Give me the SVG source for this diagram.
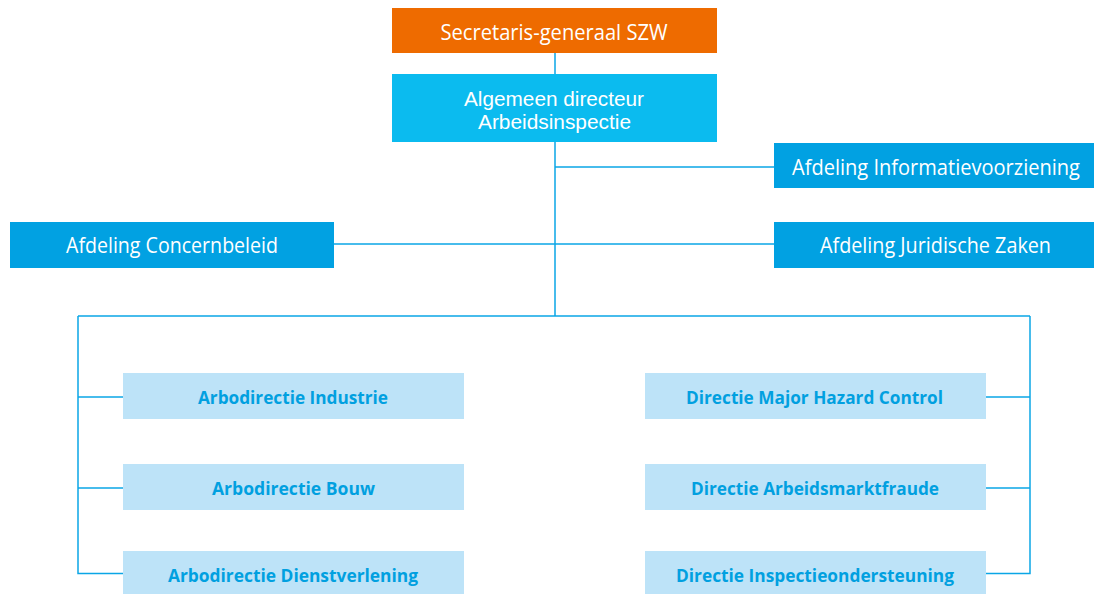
<svg xmlns="http://www.w3.org/2000/svg" width="1094" height="594" viewBox="0 0 1094 594">
<style>
.t{font-family:"Open Sans","Liberation Sans",sans-serif;font-size:21px;fill:#ffffff;text-anchor:middle}
.t2{font-family:"Liberation Sans",sans-serif;font-size:20px;fill:#ffffff;text-anchor:middle}
.b{font-family:"Open Sans","Liberation Sans",sans-serif;font-size:18px;font-weight:bold;fill:#01A0E0;text-anchor:middle}
.dark{fill:#01A1E2}
.light{fill:#BDE3F8}
.ln{stroke:#0BA6E6;stroke-width:1.5;fill:none}
</style>
<rect width="1094" height="594" fill="#ffffff"/>
<g id="connectors">
<path class="ln" d="M555,53 V74 M555,142 V316 M555,167 H774 M334,244 H774 M78,316 H1030 M78,316 V573.5 H123 M78,397 H123 M78,488 H123 M1030,316 V573.5 H986 M986,397 H1030 M986,488 H1030"/>
</g>
<g id="sg"><rect x="392" y="8" width="325" height="45" fill="#EE6B00"/><text class="t" x="554" y="40" textLength="227" lengthAdjust="spacingAndGlyphs">Secretaris-generaal SZW</text></g>
<g id="ad"><rect x="392" y="74" width="325" height="68" fill="#0BBBEF"/><text class="t2" x="554" y="106" textLength="180" lengthAdjust="spacingAndGlyphs">Algemeen directeur</text><text class="t2" x="554.5" y="129" textLength="153" lengthAdjust="spacingAndGlyphs">Arbeidsinspectie</text></g>
<g id="info"><rect class="dark" x="774" y="143" width="320" height="45"/><text class="t" x="936" y="175" textLength="288" lengthAdjust="spacingAndGlyphs">Afdeling Informatievoorziening</text></g>
<g id="concern"><rect class="dark" x="10" y="222" width="324" height="46"/><text class="t" x="172" y="253" textLength="212" lengthAdjust="spacingAndGlyphs">Afdeling Concernbeleid</text></g>
<g id="jur"><rect class="dark" x="774" y="222" width="320" height="46"/><text class="t" x="935.5" y="253" textLength="231" lengthAdjust="spacingAndGlyphs">Afdeling Juridische Zaken</text></g>
<g id="ind"><rect class="light" x="123" y="373" width="341" height="46"/><text class="b" x="293" y="404" textLength="190" lengthAdjust="spacingAndGlyphs">Arbodirectie Industrie</text></g>
<g id="bouw"><rect class="light" x="123" y="464" width="341" height="46"/><text class="b" x="293.5" y="495" textLength="163" lengthAdjust="spacingAndGlyphs">Arbodirectie Bouw</text></g>
<g id="dienst"><rect class="light" x="123" y="551" width="341" height="43"/><text class="b" x="293" y="582" textLength="250" lengthAdjust="spacingAndGlyphs">Arbodirectie Dienstverlening</text></g>
<g id="mhc"><rect class="light" x="645" y="373" width="341" height="46"/><text class="b" x="814.5" y="404" textLength="257" lengthAdjust="spacingAndGlyphs">Directie Major Hazard Control</text></g>
<g id="amf"><rect class="light" x="645" y="464" width="341" height="46"/><text class="b" x="815" y="495" textLength="248" lengthAdjust="spacingAndGlyphs">Directie Arbeidsmarktfraude</text></g>
<g id="io"><rect class="light" x="645" y="551" width="341" height="43"/><text class="b" x="815" y="582" textLength="278" lengthAdjust="spacingAndGlyphs">Directie Inspectieondersteuning</text></g>
</svg>
